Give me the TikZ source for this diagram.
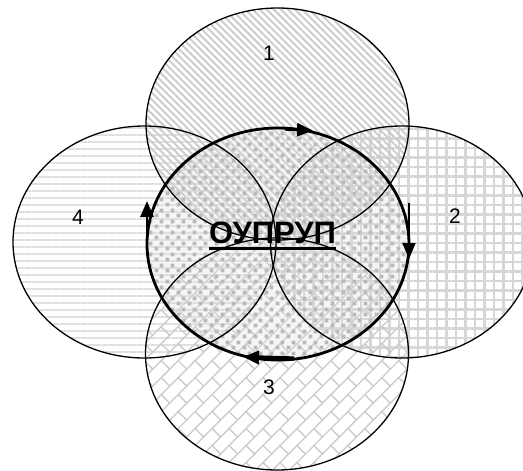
\documentclass[tikz,border=0pt]{standalone}
\usepackage{fontspec}
\setmainfont{Liberation Sans}
\usetikzlibrary{patterns,patterns.meta,arrows.meta}
\pgfdeclarepattern{
  name=dbricks,
  type=uncolored,
  bottom left={\pgfpoint{-1pt}{-1pt}},
  top right={\pgfpoint{25pt}{25pt}},
  tile size={\pgfpoint{24pt}{24pt}},
  tile transformation={\pgftransformrotate{45}},
  code={
    \pgfsetlinewidth{1.4pt}
    \pgfpathmoveto{\pgfpoint{-1pt}{0pt}}\pgfpathlineto{\pgfpoint{25pt}{0pt}}
    \pgfpathmoveto{\pgfpoint{-1pt}{12pt}}\pgfpathlineto{\pgfpoint{25pt}{12pt}}
    \pgfpathmoveto{\pgfpoint{0pt}{0pt}}\pgfpathlineto{\pgfpoint{0pt}{12pt}}
    \pgfpathmoveto{\pgfpoint{12pt}{12pt}}\pgfpathlineto{\pgfpoint{12pt}{24pt}}
    \pgfusepath{stroke}
  }
}
\pgfdeclarepattern{
  name=spots,
  type=uncolored,
  bottom left={\pgfpoint{0pt}{0pt}},
  top right={\pgfpoint{11pt}{11pt}},
  tile size={\pgfpoint{11pt}{11pt}},
  code={
    \pgfpathrectangle{\pgfpoint{0.7pt}{0.7pt}}{\pgfpoint{4pt}{4pt}}
    \pgfpathrectangle{\pgfpoint{6.2pt}{6.2pt}}{\pgfpoint{4pt}{4pt}}
    \pgfusepath{fill}
  }
}
\tikzset{
  set/.style={draw=black, line width=1.3pt},
  lab/.style={font=\fontsize{21}{21}\selectfont, inner sep=0pt},
  flow/.style={line width=2.8pt},
  arr/.style={line width=2.8pt, -{Triangle[length=16pt,width=13pt]}},
}
\begin{document}
\begin{tikzpicture}[x=1pt,y=1pt]
\useasboundingbox (0,-471) rectangle (523,0);
\clip (0,-471) rectangle (523,0);
% ellipse fills
\path[pattern={Lines[angle=0,distance=7pt,line width=1.8pt]}, pattern color=gray!25]
  (144.5,-242) ellipse [x radius=131.5, y radius=116];
\path[pattern={Hatch[angle=0,distance=9.5pt,line width=2.4pt]}, pattern color=gray!32]
  (402,-242) ellipse [x radius=131.5, y radius=116];
\path[pattern=dbricks, pattern color=gray!40]
  (277,-354) ellipse [x radius=131.5, y radius=116];
\path[pattern={Lines[angle=-45,distance=5pt,line width=2pt]}, pattern color=gray!40]
  (277.5,-124) ellipse [x radius=131.5, y radius=116];
\path[fill=gray!25, fill opacity=0.3]
  (278,-244) ellipse [x radius=131, y radius=116];
\path[pattern=spots, pattern color=gray!55]
  (278,-244) ellipse [x radius=131, y radius=116];
% ellipse outlines
\draw[set] (277.5,-124) ellipse [x radius=131.5, y radius=116];
\draw[set] (402,-242) ellipse [x radius=131.5, y radius=116];
\draw[set] (277,-354) ellipse [x radius=131.5, y radius=116];
\draw[set] (144.5,-242) ellipse [x radius=131.5, y radius=116];
\draw[flow] (278,-244) ellipse [x radius=131, y radius=116];
% arrows
\coordinate (t0) at (285,-129.3);
\coordinate (t1) at (313,-130.5);
\coordinate (r0) at (409,-203);
\coordinate (r1) at (409,-259);
\coordinate (b0) at (294,-358.5);
\coordinate (b1) at (243,-357);
\coordinate (l0) at (147,-245);
\coordinate (l1) at (147,-201);
\draw[arr] (t0) -- (t1);
\draw[arr, line width=1.6pt] (r0) -- (r1);
\draw[arr, line width=4.2pt] (b0) -- (b1);
\draw[arr] (l0) -- (l1);
% labels
\node[lab] (n1) at (269,-53) {1};
\node[lab] (n2) at (455,-216) {2};
\node[lab] (n3) at (269,-387) {3};
\node[lab] (n4) at (78,-217) {4};
\node[inner sep=0pt, anchor=base, font=\fontsize{31}{31}\selectfont\bfseries] (c) at (272.5,-243) {ОУПРУП};
\draw[line width=2.4pt] ([yshift=-5.5pt]c.base west) -- ([yshift=-5.5pt]c.base east);
\end{tikzpicture}
\end{document}
